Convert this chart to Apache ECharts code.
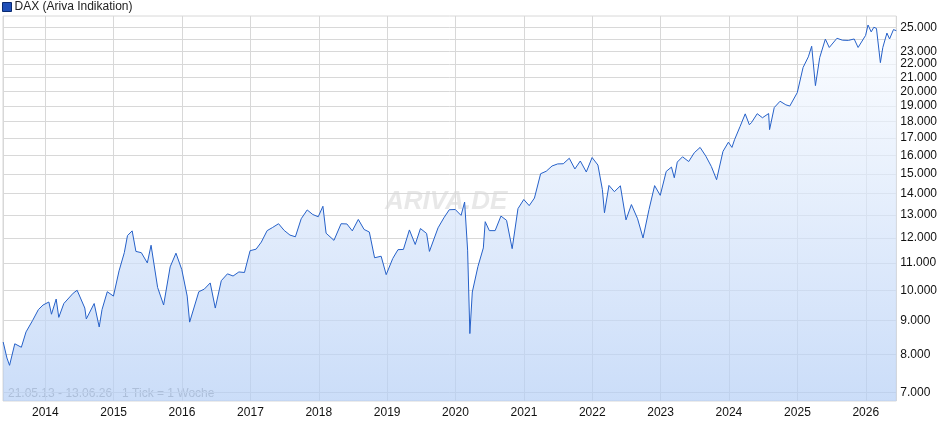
<!DOCTYPE html>
<html><head><meta charset="utf-8">
<script src="https://cdn.jsdelivr.net/npm/echarts@6/dist/echarts.min.js"></script>
<style>html,body{margin:0;padding:0;background:#fff}#c{width:940px;height:435px}</style>
</head><body><div id="c"></div>
<script>
var dates = [
 '2013-05-21','2013-06-10','2013-06-24','2013-07-22','2013-08-26','2013-09-20','2013-10-25','2013-11-25','2013-12-20',
 '2014-01-20','2014-02-03','2014-02-28','2014-03-14','2014-04-10','2014-05-30','2014-06-20','2014-07-31','2014-08-08','2014-09-19','2014-10-16','2014-10-31','2014-11-28','2014-12-31',
 '2015-01-30','2015-02-27','2015-03-16','2015-04-10','2015-04-30','2015-05-29','2015-06-30','2015-07-20','2015-08-24','2015-09-25','2015-10-30','2015-11-30','2015-12-31',
 '2016-01-29','2016-02-11','2016-03-31','2016-04-29','2016-05-31','2016-06-27','2016-07-29','2016-08-31','2016-09-30','2016-10-31','2016-11-30','2016-12-30',
 '2017-01-31','2017-02-28','2017-03-31','2017-04-28','2017-05-31','2017-06-30','2017-07-31','2017-08-29','2017-09-29','2017-10-31','2017-11-30','2017-12-29',
 '2018-01-23','2018-02-09','2018-03-23','2018-04-30','2018-05-31','2018-06-29','2018-07-31','2018-08-31','2018-09-28','2018-10-26','2018-11-30','2018-12-27',
 '2019-01-31','2019-02-28','2019-03-29','2019-04-30','2019-05-31','2019-06-28','2019-07-31','2019-08-15','2019-09-30','2019-10-31','2019-11-29','2019-12-31',
 '2020-01-31','2020-02-19','2020-03-06','2020-03-18','2020-03-31','2020-04-30','2020-05-29','2020-06-08','2020-06-30','2020-07-31','2020-08-31','2020-09-30','2020-10-30','2020-11-30','2020-12-31',
 '2021-01-29','2021-02-26','2021-03-31','2021-04-30','2021-05-31','2021-06-30','2021-07-30','2021-08-31','2021-09-30','2021-10-29','2021-11-30','2021-12-31',
 '2022-01-31','2022-02-24','2022-03-07','2022-03-31','2022-04-29','2022-05-31','2022-06-30','2022-07-29','2022-08-31','2022-09-29','2022-10-31','2022-11-30','2022-12-30',
 '2023-01-31','2023-02-28','2023-03-15','2023-03-31','2023-04-28','2023-05-31','2023-06-30','2023-07-31','2023-08-31','2023-09-29','2023-10-27','2023-11-30','2023-12-29',
 '2024-01-17','2024-01-31','2024-02-29','2024-03-28','2024-04-19','2024-04-30','2024-05-31','2024-06-28','2024-07-31','2024-08-05','2024-08-30','2024-09-30','2024-10-31','2024-11-21','2024-12-31',
 '2025-01-31','2025-02-28','2025-03-18','2025-04-07','2025-04-30','2025-05-30','2025-06-20','2025-07-31','2025-08-29','2025-09-30','2025-10-31','2025-11-21','2025-12-31',
 '2026-01-13','2026-01-30','2026-02-13','2026-02-27','2026-03-20','2026-04-02','2026-04-24','2026-05-08','2026-05-29','2026-06-13'
];
var dax = [
 8350,7900,7700,8300,8200,8650,9000,9350,9500,
 9600,9200,9700,9100,9550,9900,10000,9400,9050,9550,8800,9350,9950,9800,
 10700,11400,12100,12300,11450,11400,11000,11700,10100,9500,10850,11380,10750,
 9800,8950,9950,10040,10260,9400,10340,10590,10510,10660,10640,11480,
 11540,11830,12310,12440,12610,12320,12120,12050,12830,13230,13020,12920,
 13400,12200,11900,12610,12600,12300,12800,12360,12250,11200,11260,10560,
 11170,11520,11530,12340,11730,12400,12190,11450,12430,12870,13240,13250,
 12980,13600,11500,8600,9940,10860,11590,12700,12310,12310,12950,12760,11560,13290,13720,
 13430,13790,15010,15140,15420,15530,15540,15840,15260,15690,15100,15880,
 15470,14200,13100,14410,14100,14390,12780,13480,12830,12000,13250,14400,13920,
 15130,15360,14800,15630,15920,15660,16150,16450,15950,15390,14700,16220,16750,
 16450,16900,17680,18490,17800,17930,18500,18240,18510,17500,18900,19320,19080,19000,19910,
 21730,22550,23400,20400,22500,23990,23300,24060,23900,23880,24000,23300,24300,
 25200,24600,25000,24900,22100,23300,24500,24000,24800,24700
];
var yTicks = [7000,8000,9000,10000,11000,12000,13000,14000,15000,16000,17000,18000,19000,20000,21000,22000,23000,24000,25000];

var series = [];
for (var i = 0; i < dates.length; i++) series.push([dates[i], dax[i]]);

var chart = echarts.init(document.getElementById('c'));
chart.setOption({
	animation: false,
	textStyle: { fontFamily: 'Liberation Sans, Arial, sans-serif' },
	legend: {
		left: 2, top: 1, padding: 0, itemGap: 4,
		itemWidth: 9, itemHeight: 9, icon: 'rect',
		itemStyle: { color: '#1f4fb8', borderColor: '#0a2a70', borderWidth: 1 },
		textStyle: { color: '#222', fontSize: 12, padding: [0, 0, 0, -2] },
		data: ['DAX (Ariva Indikation)']
	},
	grid: { left: 3, right: 41, top: 16, bottom: 34, show: true, borderColor: '#d8d8d8', borderWidth: 1 },
	graphic: [
		{ type: 'text', left: 385, top: 189, style: { text: 'ARIVA.DE', fill: 'rgba(190,190,190,0.35)', font: 'italic bold 26px Liberation Sans, Arial' } },
		{ type: 'text', left: 8, top: 388, style: { text: '21.05.13 - 13.06.26   1 Tick = 1 Woche', fill: '#999', font: '12px Liberation Sans, Arial' } }
	],
	xAxis: {
		type: 'time',
		min: '2013-05-20', max: '2026-06-13',
		axisLine: { show: false },
		axisTick: { show: false },
		splitNumber: 13,
		minInterval: 365 * 24 * 3600 * 1000,
		axisLabel: { color: '#111', fontSize: 12, formatter: '{yyyy}', margin: 6, hideOverlap: false, showMinLabel: false, showMaxLabel: false },
		splitLine: { show: true, lineStyle: { color: '#d8d8d8', width: 1 } }
	},
	yAxis: {
		type: 'log', logBase: 10,
		min: 6800, max: 26000,
		position: 'right',
		axisLine: { show: false },
		axisTick: { show: false, customValues: yTicks },
		axisLabel: {
			customValues: yTicks, color: '#111', fontSize: 12, margin: 4,
			showMaxLabel: true, showMinLabel: true, hideOverlap: false,
			formatter: function(v) { return Math.round(v).toString().replace(/\B(?=(\d{3})+(?!\d))/g, '.'); }
		},
		splitLine: { show: true, lineStyle: { color: '#d8d8d8', width: 1 } }
	},
	series: [{
		name: 'DAX (Ariva Indikation)',
		type: 'line',
		data: series,
		showSymbol: false,
		color: '#1f4fb8',
		lineStyle: { width: 1, color: '#2560c8' },
		areaStyle: {
			origin: 'start',
			color: new echarts.graphic.LinearGradient(0, 0, 0, 1, [
				{ offset: 0, color: 'rgba(250,252,255,1)' },
				{ offset: 1, color: 'rgba(180,206,245,1)' }
			])
		}
	}]
});
</script>
</body></html>
